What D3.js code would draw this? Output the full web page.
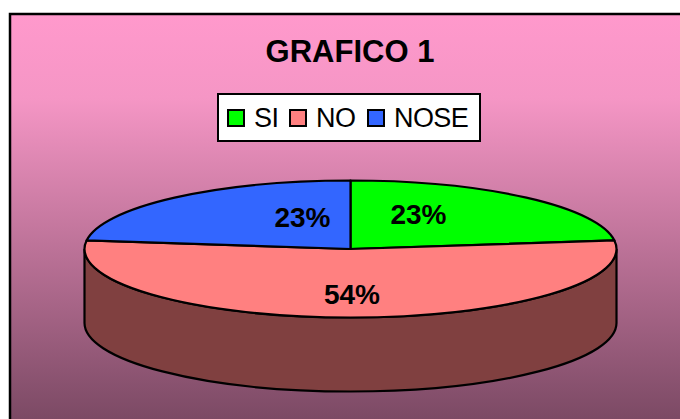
<!DOCTYPE html>
<html><head><meta charset="utf-8">
<script src="https://cdn.jsdelivr.net/npm/d3@7"></script>
<style>html,body{margin:0;padding:0;background:#fff;overflow:hidden}svg{display:block}</style>
</head><body><div id="c"></div>
<script>
const categories = ["SI", "NO", "NOSE"];
const values = [23, 54, 23];
const labels = ["23%", "54%", "23%"];
const colors = ["#00FF00", "#FF8080", "#3366FF"];
const sideColor = "#804040";
const title = "GRAFICO 1";

const W = 680, H = 419;
const cx = 350.5, cy = 249, rx = 266, ry = 68.5, depth = 74;
const svg = d3.select("#c").append("svg").attr("width", W).attr("height", H);

const grad = svg.append("defs").append("linearGradient").attr("id", "bg")
  .attr("x1", 0).attr("y1", 0).attr("x2", 0).attr("y2", 1);
grad.append("stop").attr("offset", "0").attr("stop-color", "#FF99CC");
grad.append("stop").attr("offset", "0.2").attr("stop-color", "#F596C5");
grad.append("stop").attr("offset", "1").attr("stop-color", "#764660");

svg.append("rect").attr("x", 10).attr("y", 14).attr("width", 700).attr("height", 420)
  .attr("fill", "url(#bg)").attr("stroke", "#000").attr("stroke-width", 2.5);

svg.append("text").attr("x", 350).attr("y", 62).attr("text-anchor", "middle")
  .attr("font-family", "Liberation Sans, Arial, sans-serif").attr("font-weight", 700)
  .attr("font-size", 31).text(title);

// legend
const lg = svg.append("g");
lg.append("rect").attr("x", 218).attr("y", 94).attr("width", 262).attr("height", 47)
  .attr("fill", "#fff").attr("stroke", "#000").attr("stroke-width", 2);
const swatchX = d3.scaleOrdinal().domain(categories).range([228, 290, 368]);
const textX = d3.scaleOrdinal().domain(categories).range([254, 316, 394]);
categories.forEach((c, i) => {
  lg.append("rect").attr("x", swatchX(c)).attr("y", 110).attr("width", 16).attr("height", 16)
    .attr("fill", colors[i]).attr("stroke", "#000").attr("stroke-width", 2);
  lg.append("text").attr("x", textX(c)).attr("y", 127)
    .attr("font-family", "Liberation Sans, Arial, sans-serif")
    .attr("font-size", 27).attr("letter-spacing", -0.6).text(c);
});

// pie
const pieData = d3.pie().sort(null).value(d => d)(values);
const sy = ry / rx;
const arc = d3.arc().innerRadius(0).outerRadius(rx);

// side wall
svg.append("path")
  .attr("d", `M${cx - rx},${cy} L${cx - rx},${cy + depth} A${rx},${ry} 0 0 0 ${cx + rx},${cy + depth} L${cx + rx},${cy} A${rx},${ry} 0 0 1 ${cx - rx},${cy} Z`)
  .attr("fill", sideColor).attr("stroke", "#000").attr("stroke-width", 2.2);

const topFace = svg.append("g").attr("transform", `translate(${cx},${cy}) scale(1,${sy})`);
topFace.selectAll("path").data(pieData).join("path")
  .attr("d", arc)
  .attr("fill", (d, i) => colors[i])
  .attr("stroke", "#000").attr("stroke-width", 2.2)
  .attr("vector-effect", "non-scaling-stroke")
  .attr("stroke-linejoin", "round");

const labelPos = [[418.5, 224], [352, 304], [302.5, 227]];
svg.selectAll("text.v").data(labels).join("text").attr("class", "v")
  .attr("x", (d, i) => labelPos[i][0]).attr("y", (d, i) => labelPos[i][1])
  .attr("text-anchor", "middle")
  .attr("font-family", "Liberation Sans, Arial, sans-serif").attr("font-weight", 700)
  .attr("font-size", 28).text(d => d);
</script></body></html>
